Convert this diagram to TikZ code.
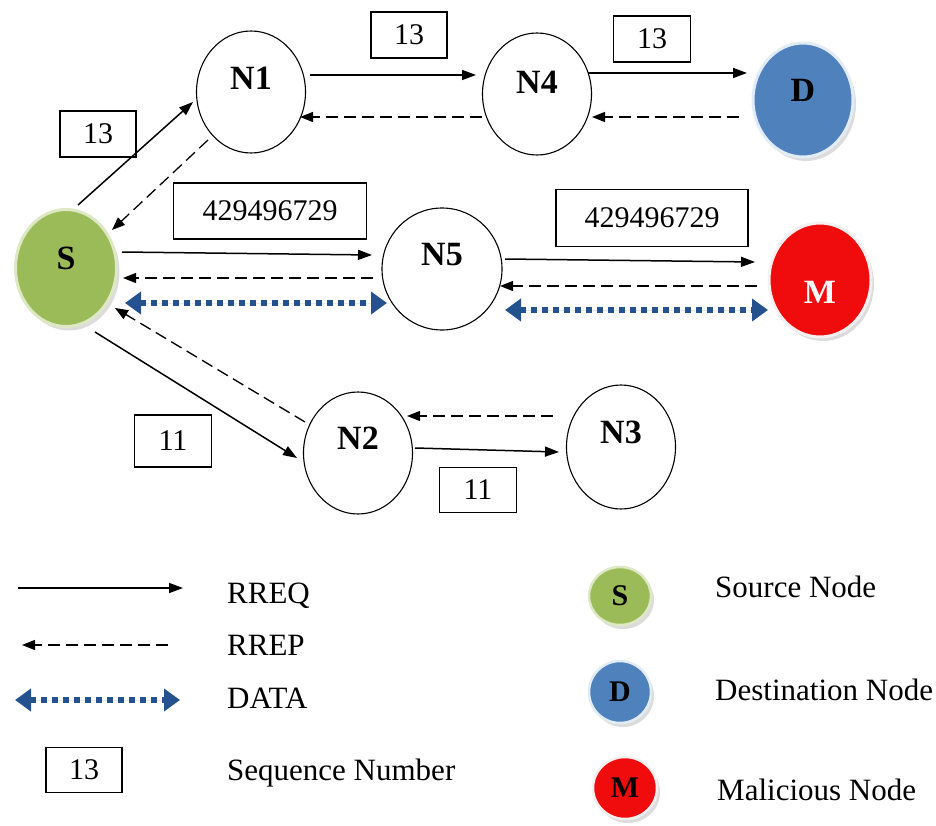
\documentclass[tikz,border=0pt]{standalone}
\usepackage{fontspec}
\setmainfont{Liberation Serif}
\usetikzlibrary{shapes.geometric,arrows.meta,shadows}

\definecolor{srcGreen}{RGB}{155,187,89}
\definecolor{srcRim}{RGB}{222,232,196}
\definecolor{dstBlue}{RGB}{79,129,189}
\definecolor{dstRim}{RGB}{226,236,246}
\definecolor{malRed}{RGB}{240,12,12}
\definecolor{malRim}{RGB}{246,240,240}
\definecolor{dataBlue}{RGB}{36,82,142}

\begin{document}
\begin{tikzpicture}[x=1pt,y=-1pt,
  plainnode/.style={ellipse, draw=black, line width=1.1pt, fill=white, inner sep=0pt,
    minimum width=109pt, minimum height=122pt},
  colnode/.style={ellipse, inner sep=0pt, line width=3pt,
    drop shadow={shadow xshift=3pt, shadow yshift=-4pt, fill=black!30, opacity=0.45}},
  nlabel/.style={font=\fontsize{34}{40}\selectfont\bfseries},
  smalllabel/.style={font=\fontsize{30}{34}\selectfont\bfseries},
  seqbox/.style={draw=black, line width=1.2pt, inner sep=0pt, font=\fontsize{30}{36}\selectfont},
  legtext/.style={anchor=base west, inner sep=0pt, font=\fontsize{31}{36}\selectfont},
  rreq/.style={line width=1.5pt, -{Triangle[length=14pt,width=10pt]}},
  rrep/.style={line width=1.3pt, dash pattern=on 12pt off 6pt, -{Triangle[length=13pt,width=10pt]}},
  datalink/.style={draw=dataBlue, fill=dataBlue, line width=6pt, dash pattern=on 6pt off 5pt,
    {Triangle[length=16pt,width=22pt]}-{Triangle[length=16pt,width=22pt]}}
]
\useasboundingbox (0,0) rectangle (936,826);

% ---------- network nodes ----------
\node[plainnode, label={[nlabel, yshift=14pt]center:N1}] (N1) at (251,92) {};
\node[plainnode, label={[nlabel, yshift=12pt]center:N4}] (N4) at (537,94) {};
\node[plainnode, minimum width=120pt, label={[nlabel, yshift=14pt]center:N5}] (N5) at (442,269) {};
\node[plainnode, label={[nlabel, yshift=15pt]center:N2}] (N2) at (358,453) {};
\node[plainnode, minimum height=124pt, label={[nlabel, yshift=15pt]center:N3}] (N3) at (621,447) {};

\node[colnode, fill=srcGreen, draw=srcRim, minimum width=101pt, minimum height=117pt,
  label={[nlabel, yshift=10pt]center:S}] (S) at (66,268) {};
\node[colnode, fill=dstBlue, draw=dstRim, minimum width=100pt, minimum height=114pt,
  label={[nlabel, yshift=10pt]center:D}] (D) at (803,100) {};
\node[colnode, fill=malRed, draw=malRim, minimum width=102pt, minimum height=114pt,
  label={[nlabel, text=white, yshift=-12pt]center:M}] (M) at (820,280) {};

% ---------- sequence number boxes ----------
\node[seqbox, minimum width=76pt, minimum height=46pt] (b1) at (98,134) {13};
\node[seqbox, minimum width=76pt, minimum height=46pt] (b2) at (409,35) {13};
\node[seqbox, minimum width=77pt, minimum height=46pt] (b3) at (652,39) {13};
\node[seqbox, minimum width=193pt, minimum height=56pt] (b4) at (270,211) {429496729};
\node[seqbox, minimum width=192pt, minimum height=57pt] (b5) at (652,218) {429496729};
\node[seqbox, minimum width=77pt, minimum height=52pt] (b6) at (173,441) {11};
\node[seqbox, minimum width=77pt, minimum height=45pt] (b7) at (478,490) {11};

% ---------- route requests ----------
\draw[rreq] ([shift={(12,-63)}]S.center) -- ([shift={(-58,10)}]N1.center);
\draw[rreq] ([shift={(59,-17)}]N1.center) -- ([shift={(-61,-19)}]N4.center);
\draw[rreq] ([shift={(51,-21)}]N4.center) -- ([shift={(-56,-27)}]D.center);
\draw[rreq] ([shift={(56,-16)}]S.center) -- ([shift={(-70,-14)}]N5.center);
\draw[rreq] ([shift={(63,-10)}]N5.center) -- ([shift={(-65,-18)}]M.center);
\draw[rreq] ([shift={(29,64)}]S.center) -- ([shift={(-61,5)}]N2.center);
\draw[rreq] ([shift={(57,-5)}]N2.center) -- ([shift={(-62,5)}]N3.center);

% ---------- route replies ----------
\draw[rrep] ([shift={(-43,48)}]N1.center) -- ([shift={(46,-38)}]S.center);
\draw[rrep] ([shift={(-55,23)}]N4.center) -- ([shift={(49,25)}]N1.center);
\draw[rrep] ([shift={(-64,17)}]D.center) -- ([shift={(55,23)}]N4.center);
\draw[rrep] ([shift={(-69,9)}]N5.center) -- ([shift={(57,10)}]S.center);
\draw[rrep] ([shift={(-63,6)}]M.center) -- ([shift={(58,17)}]N5.center);
\draw[rrep] ([shift={(-53,-31)}]N2.center) -- ([shift={(49,40)}]S.center);
\draw[rrep] ([shift={(-68,-31)}]N3.center) -- ([shift={(49,-37)}]N2.center);

% ---------- data transfer ----------
\draw[datalink] ([shift={(59,35)}]S.center) -- ([shift={(-55,34)}]N5.center);
\draw[datalink] ([shift={(63,41)}]N5.center) -- ([shift={(-52,30)}]M.center);

% ---------- legend: link types ----------
\coordinate (rqA) at (18,588);  \coordinate (rqB) at (183,588);
\coordinate (rpA) at (168,645); \coordinate (rpB) at (22,645);
\coordinate (dtA) at (15,700);  \coordinate (dtB) at (180,700);
\draw[rreq] (rqA) -- (rqB);
\draw[rrep] (rpA) -- (rpB);
\draw[datalink] (dtA) -- (dtB);
\node[seqbox, minimum width=76pt, minimum height=45pt] (lgBox) at (84,770) {13};

\node[legtext] (tRREQ) at (227,603) {RREQ};
\node[legtext] (tRREP) at (227,655) {RREP};
\node[legtext] (tDATA) at (227,708) {DATA};
\node[legtext] (tSEQ) at (227,780) {Sequence Number};

% ---------- legend: node kinds ----------
\node[colnode, line width=2.5pt, fill=srcGreen, draw=srcRim, minimum width=62pt, minimum height=58pt,
  smalllabel] (lgS) at (620,596) {S};
\node[colnode, line width=2.5pt, fill=dstBlue, draw=dstRim, minimum width=62pt, minimum height=62pt,
  smalllabel] (lgD) at (620,692) {D};
\node[colnode, line width=2.5pt, fill=malRed, draw=malRim, minimum width=64pt, minimum height=62pt,
  smalllabel] (lgM) at (625,788) {M};

\node[legtext] (tSrc) at (715,597) {Source Node};
\node[legtext] (tDst) at (715,700) {Destination Node};
\node[legtext] (tMal) at (717,800) {Malicious Node};
\end{tikzpicture}
\end{document}
